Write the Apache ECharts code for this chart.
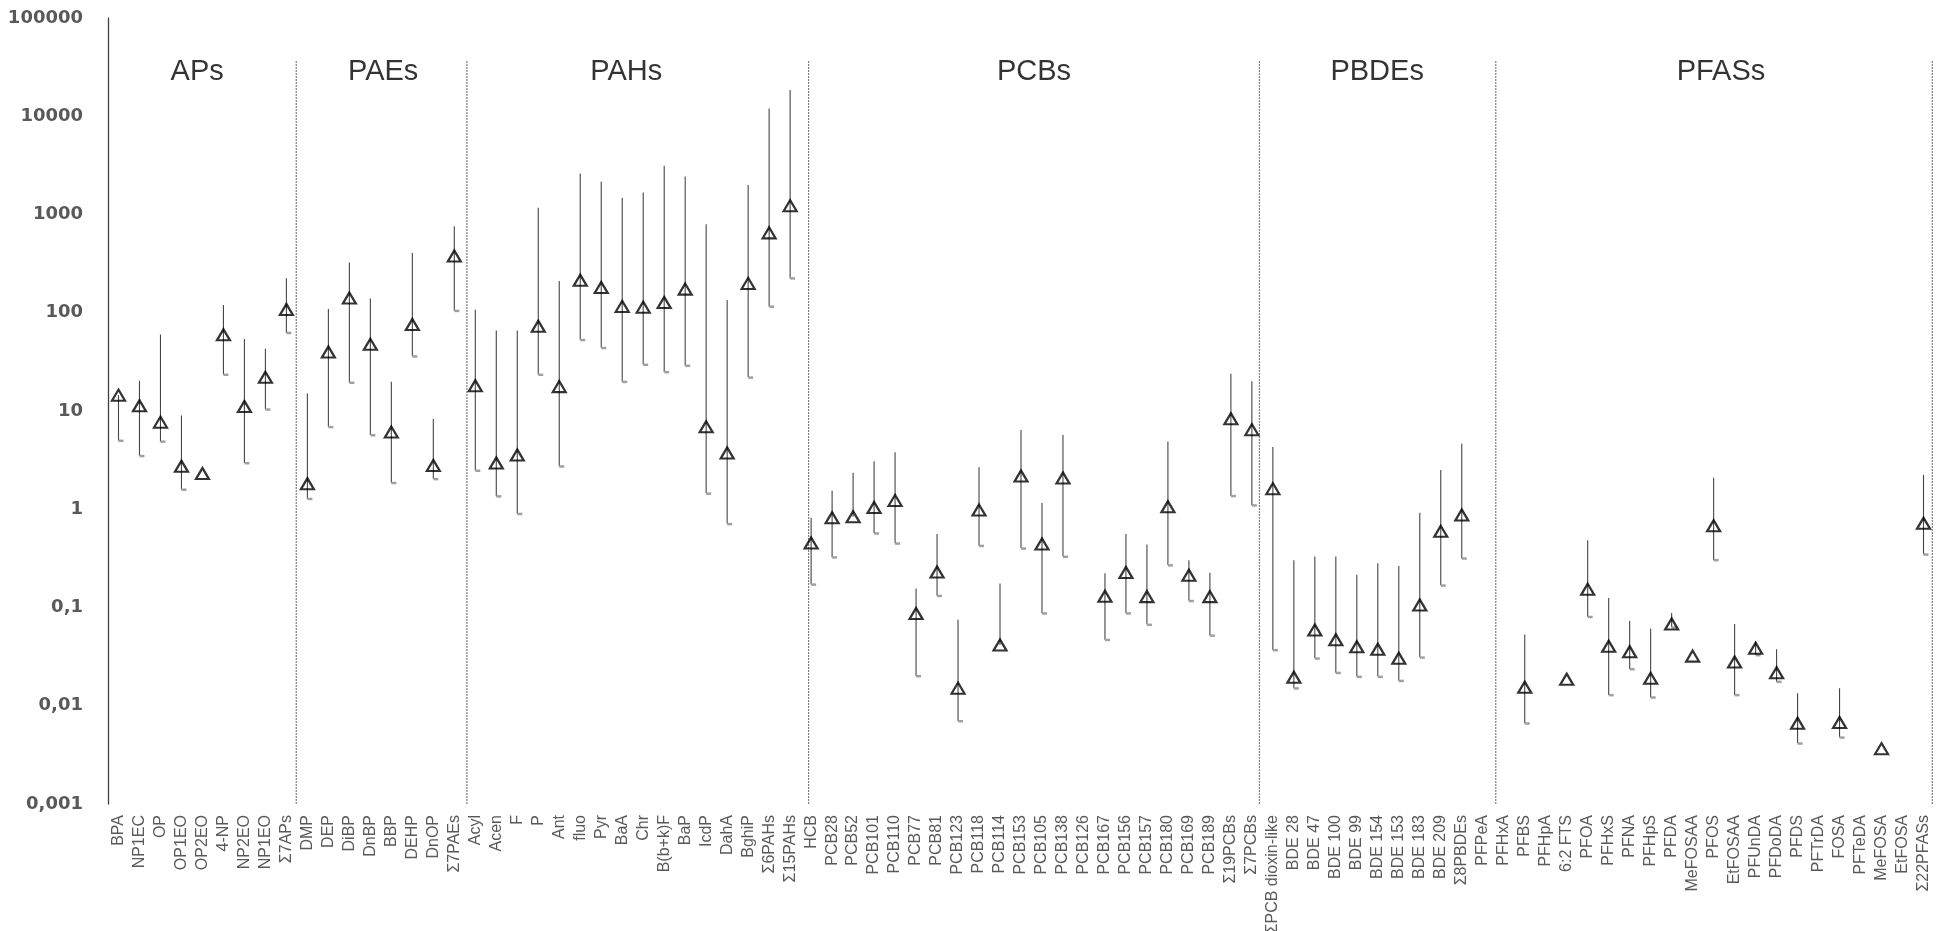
<!DOCTYPE html>
<html>
<head>
<meta charset="utf-8">
<script src="https://cdn.jsdelivr.net/npm/echarts@6/dist/echarts.min.js"></script>
<style>
html,body{margin:0;padding:0;background:#fff;}
#chart{width:1946px;height:931px;}
</style>
</head>
<body>
<div id="chart"></div>
<script>
// ---- data ----
const categories = ['BPA','NP1EC','OP','OP1EO','OP2EO','4-NP','NP2EO','NP1EO','Σ7APs',
  'DMP','DEP','DiBP','DnBP','BBP','DEHP','DnOP','Σ7PAEs',
  'Acyl','Acen','F','P','Ant','fluo','Pyr','BaA','Chr','B(b+k)F','BaP','IcdP','DahA','BghiP','Σ6PAHs','Σ15PAHs',
  'HCB','PCB28','PCB52','PCB101','PCB110','PCB77','PCB81','PCB123','PCB118','PCB114','PCB153','PCB105','PCB138','PCB126','PCB167','PCB156','PCB157','PCB180','PCB169','PCB189','Σ19PCBs','Σ7PCBs',
  'ΣPCB dioxin-like','BDE 28','BDE 47','BDE 100','BDE 99','BDE 154','BDE 153','BDE 183','BDE 209','Σ8PBDEs',
  'PFPeA','PFHxA','PFBS','PFHpA','6:2 FTS','PFOA','PFHxS','PFNA','PFHpS','PFDA','MeFOSAA','PFOS','EtFOSAA','PFUnDA','PFDoDA','PFDS','PFTrDA','FOSA','PFTeDA','MeFOSA','EtFOSA','Σ22PFASs'];

const medianValues = [14.5,11.3,7.7,2.74,2.31,59.8,11.1,22,108,
  1.82,39.9,141,47.7,6.1,76,2.79,378,
  18.1,2.96,3.57,73,17.7,214,181,116,114,127,174,6.9,3.74,199,650,1230,
  0.454,0.82,0.84,1.04,1.23,0.087,0.23,0.0151,0.98,0.0415,2.18,0.443,2.08,null,0.13,0.227,0.129,1.06,0.213,0.129,8.35,6.46,
  1.62,0.0195,0.059,0.047,0.0399,0.0376,0.0304,0.106,0.596,0.875,
  null,null,0.0154,null,0.0186,0.153,0.0403,0.0355,0.019,0.068,0.032,0.68,0.0279,0.0385,0.0217,0.00664,null,0.00675,null,0.00366,null,0.72];

const minValues = [5.0,3.5,4.9,1.59,null,23.5,2.96,10.4,62.6,
  1.28,6.9,19.5,5.7,1.86,36.1,2.04,105,
  2.48,1.36,0.9,23.5,2.74,53,44,19.9,29.7,25,29,1.45,0.71,22,116,225,
  0.172,0.325,null,0.57,0.45,0.0201,0.132,0.007,0.426,null,0.4,0.0875,0.33,null,0.047,0.0875,0.067,0.27,0.117,0.052,1.37,1.1,
  0.037,0.0151,0.0304,0.0217,0.0198,0.0198,0.018,0.0311,0.168,0.317,
  null,null,0.00664,null,null,0.0805,0.0129,0.0237,0.0122,0.063,null,0.305,0.0129,0.0329,0.0176,0.00415,null,0.00477,null,null,null,0.348];

const maxValues = [null,20.3,60,9.0,null,120,54,43,225,
  15.1,109,325,140,19.9,405,8.3,760,
  107,66,66,1170,210,2620,2160,1480,1670,3140,2430,795,135,2000,12000,18500,
  0.82,1.54,2.35,3.08,3.8,0.156,0.56,0.075,2.68,0.175,6.4,1.16,5.7,null,0.223,0.56,0.437,4.9,0.303,0.226,23.9,20.1,
  4.3,0.303,0.33,0.33,0.216,0.282,0.264,0.92,2.51,4.64,
  null,null,0.053,null,null,0.484,0.125,0.073,0.061,0.088,null,2.09,0.068,0.045,0.0376,0.0134,null,0.0151,null,null,null,2.24];

const yTickLabels = ['0,001','0,01','0,1','1','10','100','1000','10000','100000'];
const groupNames = ['APs','PAEs','PAHs','PCBs','PBDEs','PFASs'];

// ---- layout (positions on the hidden index axis) ----
const groupTitleX = [3.75, 12.61, 24.19, 43.62, 59.97, 76.35];
const groupTitleY = 28200;
const separatorX = [8.47, 16.6, 32.88, 54.36, 65.62, 86.42];
const separatorTop = 37300;

const rangeData = [];
categories.forEach((c, i) => {
  const v = medianValues[i];
  if (v == null) return;
  const lo = minValues[i] == null ? v : minValues[i];
  const hi = maxValues[i] == null ? v : maxValues[i];
  if (lo === hi) return;
  rangeData.push([i, lo, hi, minValues[i] == null ? 0 : 1]);
});

const chart = echarts.init(document.getElementById('chart'), null, {renderer: 'canvas'});

const separatorSeries = separatorX.map(x => ({
  type: 'line',
  xAxisIndex: 1,
  yAxisIndex: 0,
  data: [[x, 0.001], [x, separatorTop]],
  symbol: 'none',
  silent: true,
  lineStyle: {color: '#7f7f7f', width: 1.2, type: [2, 1]},
  z: 1
}));

chart.setOption({
  backgroundColor: '#ffffff',
  animation: false,
  grid: {left: 108, right: 12, top: 18, bottom: 127, containLabel: false, outerBoundsMode: 'none'},
  xAxis: [{
    type: 'category',
    data: categories,
    boundaryGap: true,
    axisLine: {show: false},
    axisTick: {show: false},
    splitLine: {show: false},
    axisLabel: {
      interval: 0, rotate: 90, margin: 11,
      color: '#595959', fontSize: 16,
      fontFamily: '"Liberation Sans Narrow", "Arial Narrow", "Liberation Sans", Arial, sans-serif'
    }
  }, {
    type: 'value',
    min: -0.5, max: 86.5,
    show: false
  }],
  yAxis: [{
    type: 'log',
    logBase: 10,
    min: 0.001,
    max: 100000,
    splitNumber: 8,
    axisLine: {show: true, onZero: false, lineStyle: {color: '#404040', width: 1.3}},
    axisTick: {show: false},
    splitLine: {show: false},
    axisLabel: {
      margin: 25,
      color: '#595959', fontSize: 18, fontWeight: 'bold',
      fontFamily: 'DejaVu Sans, sans-serif',
      formatter: v => yTickLabels[Math.round(Math.log10(v)) + 3]
    }
  }],
  series: [
    ...separatorSeries,
    {
      type: 'custom',
      xAxisIndex: 0,
      yAxisIndex: 0,
      data: rangeData,
      z: 2,
      silent: true,
      renderItem: (params, api) => {
        const x = api.value(0);
        const lo = api.coord([x, api.value(1)]);
        const hi = api.coord([x, api.value(2)]);
        const children = [{
          type: 'line',
          shape: {x1: lo[0], y1: lo[1], x2: hi[0], y2: hi[1]},
          style: {stroke: '#454545', lineWidth: 1.1}
        }];
        if (api.value(3) === 1) {
          children.push({
            type: 'rect',
            shape: {x: lo[0], y: lo[1] - 1, width: 5, height: 2.5},
            style: {fill: '#a0a0a0'}
          });
        }
        return {type: 'group', children};
      }
    },
    {
      type: 'scatter',
      xAxisIndex: 0,
      yAxisIndex: 0,
      data: medianValues.map(v => v == null ? '-' : v),
      symbol: 'triangle',
      symbolSize: [13, 11],
      itemStyle: {color: 'rgba(255,255,255,0)', borderColor: '#000000', borderWidth: 2.2},
      z: 5
    },
    {
      type: 'scatter',
      xAxisIndex: 1,
      yAxisIndex: 0,
      symbolSize: 0,
      silent: true,
      data: groupNames.map((n, i) => ({name: n, value: [groupTitleX[i], groupTitleY]})),
      label: {
        show: true, position: 'inside', formatter: '{b}',
        color: '#000000', fontSize: 29, fontFamily: 'Liberation Sans, Arial, sans-serif'
      },
      z: 6
    }
  ]
});
</script>
</body>
</html>
